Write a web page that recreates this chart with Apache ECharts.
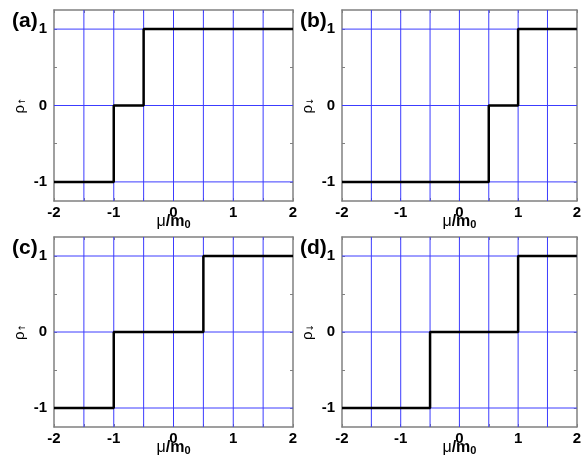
<!DOCTYPE html>
<html>
<head>
<meta charset="utf-8">
<script src="https://cdn.jsdelivr.net/npm/echarts@6/dist/echarts.min.js"></script>
<style>
html, body { margin: 0; padding: 0; background: #fff; }
#chart { width: 584px; height: 464px; }
</style>
</head>
<body>
<div id="chart"></div>
<script>
var myChart = echarts.init(document.getElementById('chart'));

// step data: [mu/m0, rho], drawn with step 'end'
var panelA = [[-2, -1], [-1, 0], [-0.5, 1], [2, 1]];
var panelB = [[-2, -1], [0.5, 0], [1, 1], [2, 1]];
var panelC = [[-2, -1], [-1, 0], [0.5, 1], [2, 1]];
var panelD = [[-2, -1], [-0.5, 0], [1, 1], [2, 1]];

var panelLabels = ['(a)', '(b)', '(c)', '(d)'];
var spinArrows = ['↑', '↓', '↑', '↓'];
var xLabelTicks = [-2, -1, 0, 1, 2];
var xGridLines = [-1.5, -1, -0.5, 0, 0.5, 1, 1.5];
var yLabelTicks = [-1, 0, 1];
var yMinorTicks = [-1, -0.5, 0, 0.5, 1];

var grids = [
    { left: 54, top: 10, width: 239, height: 191 },
    { left: 342, top: 10, width: 241, height: 191 },
    { left: 54, top: 237, width: 239, height: 190 },
    { left: 342, top: 237, width: 241, height: 190 }
];
var allData = [panelA, panelB, panelC, panelD];

var blue = '#3c3cff';
var axisGrey = '#808080';
var font = 'Liberation Sans, Arial, sans-serif';

// grid line items: [value, 0 = vertical / 1 = horizontal]
var gridLineData = xGridLines.map(function (v) { return [v, 0]; })
    .concat(yLabelTicks.map(function (v) { return [v, 1]; }));

function renderGridLine(params, api) {
    var v = api.value(0);
    var p1, p2;
    if (api.value(1) === 0) {
        p1 = api.coord([v, -1.25]);
        p2 = api.coord([v, 1.25]);
    } else {
        p1 = api.coord([-2, v]);
        p2 = api.coord([2, v]);
    }
    return {
        type: 'line',
        shape: { x1: p1[0], y1: p1[1], x2: p2[0], y2: p2[1] },
        style: { stroke: blue, lineWidth: 1 }
    };
}

var xAxes = [], yAxes = [], series = [], graphics = [];

grids.forEach(function (g, i) {
    // bottom axis with labels
    xAxes.push({
        gridIndex: i, type: 'value', position: 'bottom',
        min: -2, max: 2, interval: 0.5,
        name: '{mu|μ}{b|/m}{sub|0}', nameLocation: 'middle', nameGap: 12,
        nameMoveOverlap: false,
        nameTextStyle: {
            rich: {
                mu: { fontFamily: font, fontSize: 16, color: '#000' },
                b: { fontFamily: font, fontSize: 16, fontWeight: 'bold', color: '#000' },
                sub: { fontFamily: font, fontSize: 11, fontWeight: 'bold', color: '#000', verticalAlign: 'bottom', padding: [6, 0, 0, 0] }
            }
        },
        axisLine: { show: true, onZero: false, lineStyle: { color: axisGrey, width: 1.5 } },
        axisTick: { show: true, inside: true, length: 3, lineStyle: { color: axisGrey } },
        axisLabel: {
            color: '#000', fontFamily: font, fontSize: 15, fontWeight: 'bold', margin: 4,
            customValues: xLabelTicks
        },
        splitLine: { show: false }
    });
    // top frame
    xAxes.push({
        gridIndex: i, type: 'value', position: 'top',
        min: -2, max: 2, interval: 0.5,
        axisLine: { show: true, onZero: false, lineStyle: { color: axisGrey, width: 1.5 } },
        axisTick: { show: true, inside: true, length: 3, lineStyle: { color: axisGrey } },
        axisLabel: { show: false },
        splitLine: { show: false }
    });
    // left axis with labels
    yAxes.push({
        gridIndex: i, type: 'value', position: 'left',
        min: -1.25, max: 1.25,
        name: '{r|ρ}{s|' + spinArrows[i] + '}', nameLocation: 'middle', nameGap: 27, nameRotate: 90,
        nameTextStyle: {
            rich: {
                r: { fontFamily: font, fontSize: 15, color: '#000' },
                s: { fontFamily: 'DejaVu Sans, sans-serif', fontSize: 9, color: '#000', verticalAlign: 'bottom', padding: [6, 0, 0, 0] }
            }
        },
        axisLine: { show: true, onZero: false, lineStyle: { color: axisGrey, width: 1.5 } },
        axisTick: {
            show: true, inside: true, length: 3, lineStyle: { color: axisGrey },
            customValues: yMinorTicks
        },
        axisLabel: {
            color: '#000', fontFamily: font, fontSize: 15, fontWeight: 'bold', margin: 7,
            customValues: yLabelTicks
        },
        splitLine: { show: false }
    });
    // right frame
    yAxes.push({
        gridIndex: i, type: 'value', position: 'right',
        min: -1.25, max: 1.25,
        axisLine: { show: true, onZero: false, lineStyle: { color: axisGrey, width: 1.5 } },
        axisTick: {
            show: true, inside: true, length: 3, lineStyle: { color: axisGrey },
            customValues: yMinorTicks
        },
        axisLabel: { show: false },
        splitLine: { show: false }
    });

    // blue grid lines
    series.push({
        type: 'custom',
        xAxisIndex: i * 2, yAxisIndex: i * 2,
        data: gridLineData,
        renderItem: renderGridLine,
        silent: true, clip: false, z: 1,
        encode: { x: -1, y: -1 }
    });

    series.push({
        type: 'line', step: 'end',
        xAxisIndex: i * 2, yAxisIndex: i * 2,
        data: allData[i],
        symbol: 'none', silent: true,
        lineStyle: { color: '#000', width: 2.5 },
        z: 5
    });

    graphics.push({
        type: 'text',
        left: g.left - 42, top: g.top + 1,
        style: {
            text: panelLabels[i], fill: '#000',
            font: 'bold 21px ' + font
        }
    });
});

var option = {
    backgroundColor: '#fff',
    animation: false,
    grid: grids.map(function (g) {
        return { left: g.left, top: g.top, width: g.width, height: g.height, containLabel: false };
    }),
    xAxis: xAxes,
    yAxis: yAxes,
    series: series,
    graphic: graphics
};

myChart.setOption(option);
</script>
</body>
</html>
